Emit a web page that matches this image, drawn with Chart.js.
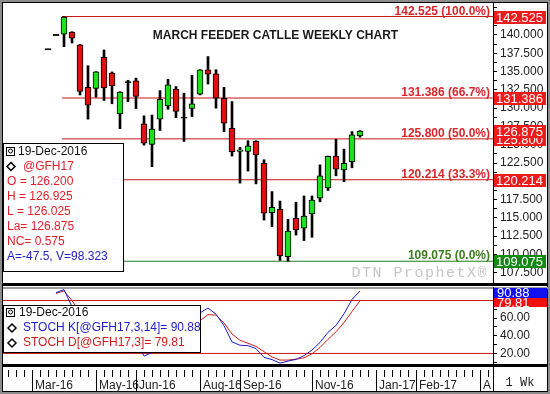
<!DOCTYPE html>
<html>
<head>
<meta charset="utf-8">
<script src="https://cdn.jsdelivr.net/npm/chart.js@4.4.1/dist/chart.umd.min.js"></script>
<style>
body { margin: 0; background: #fff; }
#wrap { position: relative; width: 550px; height: 394px; overflow: hidden; }
.frame { position: absolute; box-sizing: border-box; }
canvas { position: absolute; left: 0; }
</style>
</head>
<body>
<div id="wrap">
  <div class="frame" style="left:0;top:0;width:550px;height:394px;border:2px solid #8c8c8c"></div>
  <div class="frame" style="left:2px;top:2px;width:546px;height:390px;border:1px solid #000"></div>
  <canvas id="price" width="550" height="287" style="top:0"></canvas>
  <canvas id="stoch" width="550" height="107" style="top:287px"></canvas>
</div>
<script>
// weekly bars, week 0 = 21-Mar-2016 ... week 39 = 19-Dec-2016
const opens  = [138.05, 140.0, 140.1, 140.4, 138.65, 132.85, 132.7, 136.95, 134.8, 129.2,
                133.55, 133.75, 127.85, 125.05, 128.5, 130.3, 132.6, 128.7, 129.95, 131.9,
                135.25, 134.7, 131.35, 127.25, 124.1, 124.1, 125.45, 122.45, 115.7, 116.2,
                109.7, 114.95, 113.6, 115.55, 117.7, 119.1, 123.45, 121.55, 122.7, 126.2];
const highs  = [138.05, 140.0, 142.525, 140.45, 138.7, 135.8, 135.0, 137.95, 134.95, 132.25,
                133.8, 134.1, 128.95, 129.05, 132.4, 133.95, 132.95, 132.05, 134.5, 135.25,
                137.05, 135.25, 132.85, 130.9, 124.65, 125.55, 125.55, 122.95, 118.6, 117.3,
                114.8, 117.15, 118.0, 118.0, 122.25, 123.45, 125.75, 124.4, 126.8, 126.925];
const lows   = [138.05, 140.0, 138.4, 138.9, 131.8, 128.5, 131.5, 131.05, 130.6, 127.2,
                130.9, 129.95, 124.95, 122.0, 126.95, 129.85, 128.7, 125.45, 128.85, 131.8,
                133.3, 130.0, 126.8, 123.45, 119.75, 121.4, 119.65, 114.7, 113.8, 109.2,
                109.075, 112.65, 111.9, 112.35, 117.2, 118.75, 120.75, 119.95, 121.85, 126.025];
const closes = [138.05, 140.0, 142.45, 139.55, 132.3, 130.4, 134.95, 132.75, 133.05, 132.2,
                133.55, 131.6, 125.2, 127.15, 131.2, 133.2, 129.55, 128.7, 130.6, 135.25,
                134.65, 131.35, 127.95, 124.05, 124.3, 124.85, 123.6, 115.65, 116.45, 109.8,
                113.2, 113.35, 115.25, 117.45, 120.75, 123.4, 121.65, 122.45, 126.35, 126.875];

const stochK = [null, 89, 92.4, 73, 45, 30, 40, 46, 41, 30,
                38, 34, 17, 21, 45, 55, 50, 52, 60, 66,
                71.5, 64.5, 51.5, 33, 29.3, 28.8, 25.5, 15.5, 13, 9,
                11.3, 13.2, 17.5, 23.8, 32.4, 44, 51.7, 65, 81.2, 90.88];
const stochD = [null, 88, 91, 80, 66, 50, 38, 39, 42, 39,
                36, 34, 30, 24, 28, 40, 50, 52, 54, 57,
                64, 63.5, 54.5, 42, 35, 31.5, 28, 22, 16, 12.5,
                12.5, 13.5, 15, 19.5, 26.8, 36, 44.5, 55, 67.5, 79.81];

const fibLevels = [142.525, 131.386, 125.8, 120.214, 109.075];
const fibPct = ['100.0%', '66.7%', '50.0%', '33.3%', '0.0%'];
const lastPrice = 126.875;

const monthLabels = ['Mar-16', 'May-16', 'Jun-16', 'Aug-16', 'Sep-16', 'Nov-16', 'Jan-17', 'Feb-17', 'A'];
const monthWeek = [-2, 6, 11, 19, 24, 33, 41, 46, 54];

const infoLines = ['O = 126.200', 'H = 126.925', 'L = 126.025', 'La= 126.875', 'NC= 0.575'];
const infoDate = '19-Dec-2016';

const TITLE = 'MARCH FEEDER CATLLE WEEKLY CHART';
const X_MIN = -5.625, X_MAX = 55.625, FIB_START = 1.75;

const FONT = "'Liberation Sans', Arial, sans-serif";
const GREEN_BODY = '#1fe01f', RED_BODY = '#e01010';
const FIB_RED = '#c81414', FIB_GREEN = '#1e7a1e';
const BOX_RED = '#ec1c1c', BOX_GREEN = '#138a13';
const K_COLOR = '#1c1cc8', D_COLOR = '#d21c1c';
const TXT_RED = '#e0202a', TXT_BLUE = '#2424c0';

Chart.defaults.font.family = FONT;
Chart.defaults.font.size = 12;
Chart.defaults.color = '#222';

const DOJI = 0.08;
const bodyData = opens.map((o, i) => {
    const c = closes[i];
    if (Math.abs(c - o) < 0.1) return {x: i, y: [o - DOJI, o + DOJI]};
    return {x: i, y: [Math.min(o, c), Math.max(o, c)]};
});
const bodyColors = opens.map((o, i) => {
    if (Math.abs(closes[i] - o) < 0.1) return '#000';
    return closes[i] > o ? GREEN_BODY : RED_BODY;
});
const wickData = lows.map((l, i) => ({x: i, y: [l, highs[i]]}));

const fibSets = fibLevels.map((v, i) => ({
    type: 'line',
    data: [{x: FIB_START, y: v}, {x: X_MAX, y: v}],
    borderColor: i === fibLevels.length - 1 ? FIB_GREEN : FIB_RED,
    borderWidth: 1,
    pointRadius: 0,
    order: 3
}));

// keep the plot area exactly where the layout padding puts it
const fixWidth = (s) => {
    s.width = 55;
    s.paddingTop = 0;
    s.paddingBottom = 0;
};

const diamond = (ctx, cx, cy) => {
    ctx.beginPath();
    ctx.moveTo(cx, cy - 4);
    ctx.lineTo(cx + 4, cy);
    ctx.lineTo(cx, cy + 4);
    ctx.lineTo(cx - 4, cy);
    ctx.closePath();
    ctx.strokeStyle = '#000';
    ctx.lineWidth = 1.5;
    ctx.stroke();
};

const dateIcon = (ctx, x, y) => {
    ctx.strokeStyle = '#000';
    ctx.lineWidth = 1;
    ctx.strokeRect(x + 0.5, y + 0.5, 8, 8);
    ctx.beginPath();
    ctx.arc(x + 4.5, y + 4, 2, 0, Math.PI * 2);
    ctx.stroke();
};

const priceOverlay = {
    id: 'priceOverlay',
    afterDraw(chart) {
        const {ctx, chartArea: a} = chart;
        const y = chart.scales.y;
        ctx.save();

        ctx.font = `bold 12px ${FONT}`;
        ctx.fillStyle = '#1a1a1a';
        ctx.textAlign = 'center';
        ctx.textBaseline = 'middle';
        ctx.fillText(TITLE, 275.5, 35.5);

        ctx.textAlign = 'right';
        ctx.textBaseline = 'alphabetic';
        fibLevels.forEach((v, i) => {
            ctx.fillStyle = i === fibLevels.length - 1 ? '#3c7d1e' : '#d8262c';
            ctx.fillText(`${v.toFixed(3)} (${fibPct[i]})`, a.right - 3, y.getPixelForValue(v) - 2);
        });

        ctx.font = `15px 'Liberation Mono', 'Courier New', monospace`;
        ctx.letterSpacing = '1.5px';
        ctx.fillStyle = '#c6c6c6';
        ctx.fillText('DTN ProphetX\u00ae', 488, 277);
        ctx.letterSpacing = '0px';

        // info box
        ctx.fillStyle = '#fff';
        ctx.fillRect(3, 143, 121, 129);
        ctx.strokeStyle = '#000';
        ctx.lineWidth = 1;
        ctx.strokeRect(3.5, 143.5, 120, 128);
        dateIcon(ctx, 6, 147);
        ctx.font = `12px ${FONT}`;
        ctx.textAlign = 'left';
        ctx.textBaseline = 'middle';
        ctx.fillStyle = '#111';
        ctx.fillText(infoDate, 18, 152);
        diamond(ctx, 11, 166.5);
        ctx.fillStyle = TXT_RED;
        ctx.fillText('@GFH17', 23, 167);
        infoLines.forEach((t, i) => ctx.fillText(t, 7, 182 + i * 14.8));
        ctx.fillStyle = TXT_BLUE;
        ctx.fillText('A=-47.5, V=98.323', 7, 256.5);

        // price boxes on the axis
        const marks = [
            [fibLevels[0], BOX_RED], [fibLevels[1], BOX_RED], [fibLevels[2], BOX_RED],
            [lastPrice, BOX_RED], [fibLevels[3], BOX_RED], [fibLevels[4], BOX_GREEN]
        ];
        ctx.font = `13px ${FONT}`;
        marks.forEach(([v, c]) => {
            const py = Math.round(y.getPixelForValue(v));
            ctx.fillStyle = c;
            ctx.fillRect(a.right + 1, py - 6, 52, 13);
            ctx.fillStyle = '#fff';
            ctx.fillText(v.toFixed(3), a.right + 3, py + 1);
        });

        // frame pieces
        ctx.fillStyle = '#000';
        ctx.fillRect(a.right, 3, 1, 283);
        ctx.fillRect(3, 283, 545, 3);
        ctx.restore();
    }
};

new Chart(document.getElementById('price'), {
    type: 'bar',
    data: {
        datasets: [
            ...fibSets,
            {
                data: wickData,
                backgroundColor: '#000',
                borderWidth: 0,
                barThickness: 2,
                grouped: false,
                order: 2
            },
            {
                data: bodyData,
                backgroundColor: bodyColors,
                borderColor: '#000',
                borderWidth: 1,
                borderSkipped: false,
                barThickness: 6,
                grouped: false,
                order: 1
            }
        ]
    },
    options: {
        responsive: false,
        animation: false,
        layout: {padding: {left: 3, right: 2, top: 5, bottom: 4}},
        plugins: {legend: {display: false}, tooltip: {enabled: false}},
        scales: {
            x: {type: 'linear', min: X_MIN, max: X_MAX, offset: false, display: false},
            y: {
                position: 'right',
                min: 106.1,
                max: 144.1,
                afterBuildTicks: (s) => {
                    const t = [];
                    for (let v = 107.5; v <= 143.75; v += 1.25) t.push({value: v});
                    s.ticks = t;
                },
                afterFit: fixWidth,
                grid: {drawOnChartArea: false, tickLength: 4, color: '#000'},
                border: {color: '#000'},
                ticks: {
                    autoSkip: false,
                    padding: 3,
                    color: '#222',
                    callback: (v) => (Math.abs(v / 2.5 - Math.round(v / 2.5)) < 1e-6 ? v.toFixed(3) : '')
                }
            }
        }
    },
    plugins: [priceOverlay]
});

const stochOverlay = {
    id: 'stochOverlay',
    afterDraw(chart) {
        const {ctx, chartArea: a} = chart;
        const x = chart.scales.x;
        ctx.save();

        ctx.fillStyle = '#9c9c9c';
        ctx.fillRect(3, 0, 545, 2);
        ctx.fillStyle = '#000';
        ctx.fillRect(3, 77, 545, 3);
        ctx.fillRect(a.right, 0, 1, 104);

        // week ticks on the time axis
        for (let w = -5; w <= 55; w++) {
            const px = Math.round(x.getPixelForValue(w));
            const major = monthWeek.includes(w);
            ctx.fillRect(px, 83, 1, major ? 21 : 7);
        }

        ctx.font = `12px 'Liberation Mono', 'Courier New', monospace`;
        ctx.fillStyle = '#222';
        ctx.textAlign = 'center';
        ctx.textBaseline = 'middle';
        ctx.fillText('1 Wk', 520, 96);

        // info box
        ctx.fillStyle = '#fff';
        ctx.fillRect(3, 18, 198, 48);
        ctx.strokeStyle = '#000';
        ctx.lineWidth = 1;
        ctx.strokeRect(3.5, 18.5, 197, 47);
        dateIcon(ctx, 6, 21);
        ctx.font = `12px ${FONT}`;
        ctx.textAlign = 'left';
        ctx.fillStyle = '#111';
        ctx.fillText(infoDate, 19, 26);
        diamond(ctx, 12, 41);
        ctx.fillStyle = K_COLOR;
        ctx.fillText(`STOCH K[@GFH17,3,14]= ${stochK[stochK.length - 1].toFixed(2)}`, 23, 41);
        diamond(ctx, 12, 56);
        ctx.fillStyle = D_COLOR;
        ctx.fillText(`STOCH D[@GFH17,3]= ${stochD[stochD.length - 1].toFixed(2)}`, 23, 56);

        // value boxes
        ctx.font = `13px ${FONT}`;
        ctx.fillStyle = '#1010f0';
        ctx.fillRect(a.right + 1, 1, 53, 10);
        ctx.fillStyle = '#f01010';
        ctx.fillRect(a.right + 1, 11, 53, 9);
        ctx.fillStyle = '#fff';
        ctx.fillText(stochK[stochK.length - 1].toFixed(2), a.right + 4, 6.5);
        ctx.fillText(stochD[stochD.length - 1].toFixed(2), a.right + 4, 16);
        ctx.restore();
    }
};

const toPoints = (arr) => arr.map((v, i) => ({x: i, y: v}));

new Chart(document.getElementById('stoch'), {
    type: 'line',
    data: {
        datasets: [
            {data: toPoints(stochK), borderColor: K_COLOR, borderWidth: 1, pointRadius: 0, tension: 0, order: 1},
            {data: toPoints(stochD), borderColor: D_COLOR, borderWidth: 1, pointRadius: 0, tension: 0, order: 2},
            {data: [{x: X_MIN, y: 80}, {x: X_MAX, y: 80}], borderColor: FIB_RED, borderWidth: 1, pointRadius: 0, order: 3},
            {data: [{x: X_MIN, y: 20}, {x: X_MAX, y: 20}], borderColor: FIB_RED, borderWidth: 1, pointRadius: 0, order: 3}
        ]
    },
    options: {
        responsive: false,
        animation: false,
        layout: {padding: {left: 3, right: 2, top: 2, bottom: 0}},
        plugins: {legend: {display: false}, tooltip: {enabled: false}},
        scales: {
            x: {
                type: 'linear',
                min: X_MIN,
                max: X_MAX,
                afterBuildTicks: (s) => { s.ticks = monthWeek.map(v => ({value: v})); },
                afterFit: (s) => {
                    s.height = 30;
                    s.paddingLeft = 0;
                    s.paddingRight = 0;
                },
                grid: {drawOnChartArea: false, drawTicks: false},
                border: {display: false},
                ticks: {
                    autoSkip: false,
                    maxRotation: 0,
                    align: 'start',
                    padding: 14,
                    labelOffset: 3,
                    color: '#222',
                    callback: (v) => {
                        const k = monthWeek.indexOf(v);
                        return k < 0 ? '' : monthLabels[k];
                    }
                }
            },
            y: {
                position: 'right',
                min: 8,
                max: 93.1,
                afterBuildTicks: (s) => {
                    const t = [];
                    for (let v = 10; v <= 90; v += 10) t.push({value: v});
                    s.ticks = t;
                },
                afterFit: fixWidth,
                grid: {drawOnChartArea: false, tickLength: 4, color: '#000'},
                border: {color: '#000'},
                ticks: {
                    autoSkip: false,
                    padding: 3,
                    color: '#222',
                    callback: (v) => (v % 20 === 0 ? v.toFixed(2) : '')
                }
            }
        }
    },
    plugins: [stochOverlay]
});
</script>
</body>
</html>
